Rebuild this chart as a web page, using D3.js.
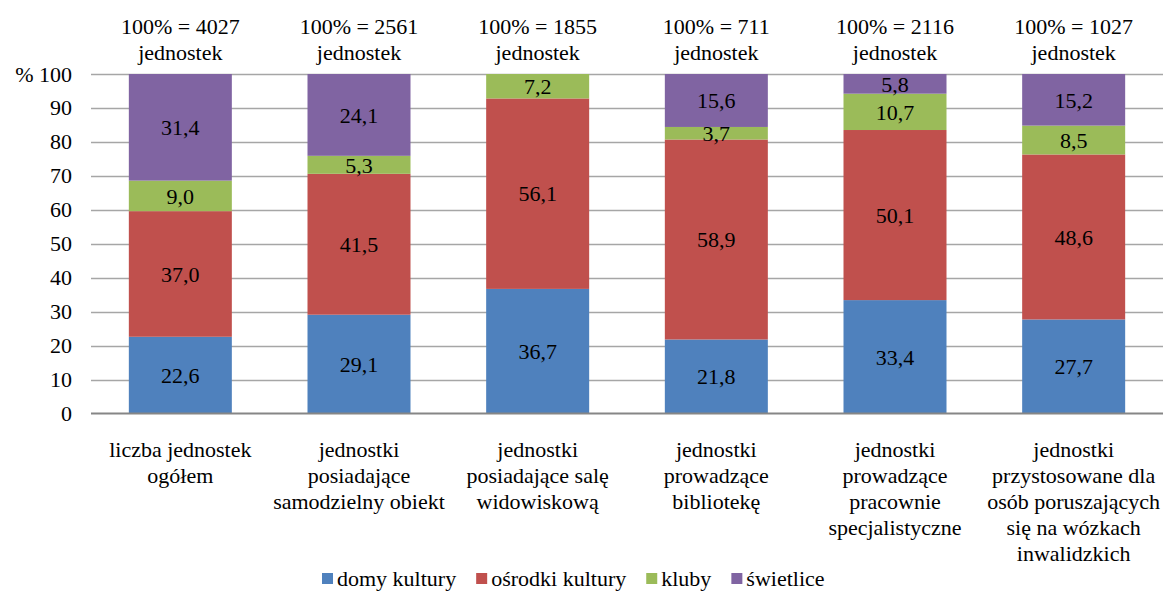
<!DOCTYPE html>
<html>
<head>
<meta charset="utf-8">
<script src="https://cdn.jsdelivr.net/npm/d3@7"></script>
</head>
<body style="margin:0">
<script>
// Data
var categories = ["c1", "c2", "c3", "c4", "c5", "c6"];
var categoryLines = [
    ["liczba jednostek", "ogółem"],
    ["jednostki", "posiadające", "samodzielny obiekt"],
    ["jednostki", "posiadające salę", "widowiskową"],
    ["jednostki", "prowadzące", "bibliotekę"],
    ["jednostki", "prowadzące", "pracownie", "specjalistyczne"],
    ["jednostki", "przystosowane dla", "osób poruszających", "się na wózkach", "inwalidzkich"]
];
var totals = [4027, 2561, 1855, 711, 2116, 1027];
var seriesNames = ["domy kultury", "ośrodki kultury", "kluby", "świetlice"];
var domyKultury     = [22.6, 29.1, 36.7, 21.8, 33.4, 27.7];
var osrodkiKultury  = [37.0, 41.5, 56.1, 58.9, 50.1, 48.6];
var kluby           = [9.0, 5.3, 7.2, 3.7, 10.7, 8.5];
var swietlice       = [31.4, 24.1, 0, 15.6, 5.8, 15.2];
var yTicks = [0, 10, 20, 30, 40, 50, 60, 70, 80, 90, 100];

// Chart dimensions
var W = 1168, H = 591;
var plot = {left: 91, right: 1163, top: 74, bottom: 413.5};
var fontSize = 22;
var serif = "'Liberation Serif', monospace";

// Bar colors
var color = d3.scaleOrdinal()
    .domain(seriesNames)
    .range(["#4F81BD", "#C0504D", "#9BBB59", "#8064A2"]);

// build table for stacking
var table = categories.map(function(c, i) {
    return {cat: c, "domy kultury": domyKultury[i], "ośrodki kultury": osrodkiKultury[i],
            "kluby": kluby[i], "świetlice": swietlice[i]};
});
var stacked = d3.stack().keys(seriesNames)(table);

//---------------------------------------Scales---------------------------------------
var x = d3.scaleBand()
    .domain(categories)
    .range([plot.left, plot.right])
    .paddingInner(0.4235)
    .paddingOuter(0.4235 / 2);

var y = d3.scaleLinear()
    .domain([0, 100])
    .range([plot.bottom, plot.top]);

var svg = d3.select("body").append("svg")
    .attr("width", W)
    .attr("height", H);

// text helper: serif font set inline on each label
function label(sel) {
    return sel.attr("font-family", serif)
        .attr("font-size", fontSize)
        .attr("fill", "#000")
        .style("font-family", serif, "important")
        .style("font-size", fontSize + "px", "important");
}

// gridlines
svg.append("g")
    .selectAll("line")
    .data(yTicks.filter(function(d) { return d > 0; }))
    .enter().append("line")
    .attr("x1", plot.left)
    .attr("x2", plot.right)
    .attr("y1", function(d) { return Math.round(y(d)) + 0.5; })
    .attr("y2", function(d) { return Math.round(y(d)) + 0.5; })
    .attr("stroke", "#a6a6a6")
    .attr("stroke-width", 1.5);

// y axis labels
var yAxis = svg.append("g")
    .attr("transform", "translate(" + plot.left + ",0)")
    .call(d3.axisLeft(y).tickValues(yTicks).tickSize(0).tickPadding(19)
        .tickFormat(function(d) { return d === 100 ? "% 100" : d; }));
yAxis.attr("font-family", null).attr("font-size", null);
yAxis.select(".domain").remove();
label(yAxis.selectAll("text"));

// bars
var layers = svg.append("g")
    .selectAll("g")
    .data(stacked)
    .enter().append("g")
    .attr("fill", function(d) { return color(d.key); });

layers.selectAll("rect")
    .data(function(d) { return d; })
    .enter().append("rect")
    .attr("x", function(d) { return x(d.data.cat); })
    .attr("width", x.bandwidth())
    .attr("y", function(d) { return y(d[1]); })
    .attr("height", function(d) { return y(d[0]) - y(d[1]); });

// value labels
var fmt = function(v) { return d3.format(".1f")(v).replace(".", ","); };
label(layers.selectAll("text")
    .data(function(d) { return d.filter(function(s) { return s[1] - s[0] > 0; }); })
    .enter().append("text")
    .attr("x", function(d) { return x(d.data.cat) + x.bandwidth() / 2; })
    .attr("y", function(d) { return y((d[0] + d[1]) / 2); })
    .attr("dy", "0.35em")
    .attr("text-anchor", "middle")
    .text(function(d) { return fmt(d[1] - d[0]); }));

// x axis line
svg.append("line")
    .attr("x1", plot.left)
    .attr("x2", plot.right)
    .attr("y1", plot.bottom)
    .attr("y2", plot.bottom)
    .attr("stroke", "#868686")
    .attr("stroke-width", 2);

// category labels
categories.forEach(function(c, i) {
    categoryLines[i].forEach(function(line, j) {
        label(svg.append("text")
            .attr("x", x(c) + x.bandwidth() / 2)
            .attr("y", 457 + j * 26)
            .attr("text-anchor", "middle")
            .text(line));
    });
});

// totals on top
categories.forEach(function(c, i) {
    label(svg.append("text")
        .attr("x", x(c) + x.bandwidth() / 2).attr("y", 34)
        .attr("text-anchor", "middle")
        .text("100% = " + totals[i]));
    label(svg.append("text")
        .attr("x", x(c) + x.bandwidth() / 2).attr("y", 60)
        .attr("text-anchor", "middle")
        .text("jednostek"));
});

// legend
var legend = svg.append("g").attr("transform", "translate(322,0)");
var lx = 0;
seriesNames.forEach(function(name) {
    var item = legend.append("g").attr("transform", "translate(" + lx + ",0)");
    item.append("rect")
        .attr("x", 0).attr("y", 573)
        .attr("width", 11).attr("height", 11)
        .attr("fill", color(name));
    var txt = label(item.append("text")
        .attr("x", 15).attr("y", 586)
        .text(name));
    lx += 15 + txt.node().getComputedTextLength() + 20;
});
</script>
</body>
</html>
